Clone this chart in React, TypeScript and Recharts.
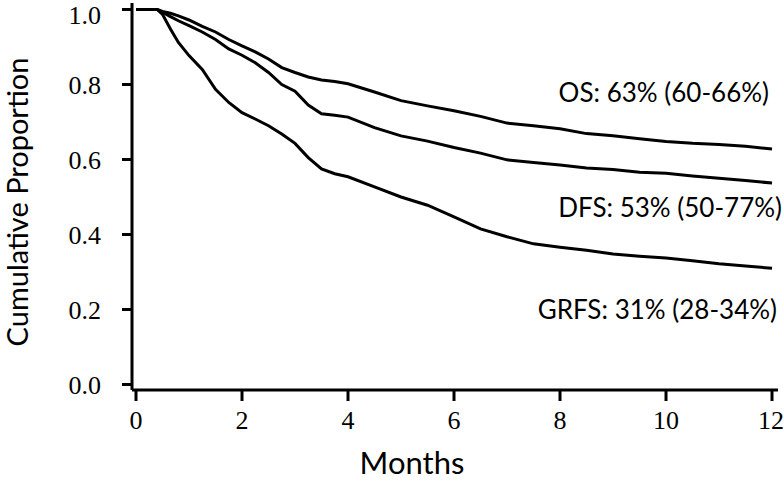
import React from "react";
import { LineChart, Line, XAxis, YAxis, ReferenceDot, Label } from "recharts";

const months = [
  0, 0.4, 0.5, 0.65, 0.8, 1.0, 1.25, 1.5, 1.75, 2.0, 2.25, 2.5, 2.75, 3.0, 3.25, 3.5, 3.75, 4.0,
  4.5, 5.0, 5.5, 6.0, 6.5, 7.0, 7.5, 8.0, 8.5, 9.0, 9.5, 10.0, 10.5, 11.0, 11.5, 12.0,
];

const osValues = [
  1.0, 1.0, 0.995, 0.99, 0.983, 0.972, 0.955, 0.94, 0.92, 0.903, 0.887, 0.868, 0.845, 0.832, 0.82,
  0.812, 0.808, 0.802, 0.78, 0.757, 0.743, 0.73, 0.715, 0.697, 0.69, 0.682, 0.669, 0.663, 0.655,
  0.648, 0.643, 0.64, 0.635, 0.628,
];

const dfsValues = [
  1.0, 1.0, 0.993, 0.981, 0.97, 0.957, 0.94, 0.92, 0.895, 0.878, 0.858, 0.832, 0.8, 0.782, 0.745,
  0.722, 0.718, 0.713, 0.685, 0.663, 0.649, 0.632, 0.617, 0.599, 0.592, 0.585, 0.577, 0.573, 0.566,
  0.563, 0.556, 0.55, 0.544, 0.537,
];

const grfsValues = [
  1.0, 1.0, 0.987, 0.948, 0.912, 0.877, 0.84, 0.787, 0.752, 0.725, 0.708, 0.69, 0.668, 0.643, 0.605,
  0.575, 0.562, 0.554, 0.527, 0.5, 0.478, 0.447, 0.415, 0.394, 0.375, 0.366, 0.358, 0.348, 0.342,
  0.337, 0.33, 0.322, 0.316, 0.31,
];

const xTicks = [0, 2, 4, 6, 8, 10, 12];
const yTicks = [0, 0.2, 0.4, 0.6, 0.8, 1.0];

const annotations = [
  { text: "OS: 63% (60-66%)", x: 12, y: 0.772, dx: -3 },
  { text: "DFS: 53% (50-77%)", x: 12, y: 0.465, dx: 10 },
  { text: "GRFS: 31% (28-34%)", x: 12, y: 0.193, dx: 5 },
];

const data = months.map((t, i) => ({
  t,
  os: osValues[i],
  dfs: dfsValues[i],
  grfs: grfsValues[i],
}));

const serif = "'Liberation Serif', 'Times New Roman', serif";
const sans = "Lato, 'Open Sans', sans-serif";

const App = () => {
  return (
    <div style={{ position: "absolute", left: 0, top: 0, width: 784, height: 481, background: "#fff" }}>
      <LineChart width={784} height={481} data={data} margin={{ top: 3, right: 6, bottom: 0, left: 0 }}>
        <XAxis
          dataKey="t"
          type="number"
          domain={[-0.0755, 12.113]}
          ticks={xTicks}
          allowDataOverflow
          height={91}
          stroke="#000"
          strokeWidth={3}
          tickSize={11}
          tickMargin={10}
          tick={{ fill: "#000", fontSize: 26, fontFamily: serif }}
        >
          <Label
            content={({ viewBox }: any) => (
              <text
                x={viewBox.x + viewBox.width / 2 - 43}
                y={viewBox.y + 76}
                textAnchor="middle"
                dominantBaseline="middle"
                fontSize={31}
                fontFamily={sans}
                fill="#000"
              >
                Months
              </text>
            )}
          />
        </XAxis>
        <YAxis
          type="number"
          domain={[-0.0147, 1.0173]}
          ticks={yTicks}
          allowDataOverflow
          width={132}
          stroke="#000"
          strokeWidth={3}
          tickSize={10}
          tickMargin={21}
          tickFormatter={(v: number) => v.toFixed(1)}
          tick={{ fill: "#000", fontSize: 26, fontFamily: serif }}
        >
          <Label
            content={() => (
              <text
                x={21}
                y={202}
                transform="rotate(-90 21 202)"
                textAnchor="middle"
                dominantBaseline="middle"
                fontSize={29}
                fontFamily={sans}
                fill="#000"
              >
                Cumulative Proportion
              </text>
            )}
          />
        </YAxis>
        <Line dataKey="os" type="linear" stroke="#000" strokeWidth={3} dot={false} isAnimationActive={false} />
        <Line dataKey="dfs" type="linear" stroke="#000" strokeWidth={3} dot={false} isAnimationActive={false} />
        <Line dataKey="grfs" type="linear" stroke="#000" strokeWidth={3} dot={false} isAnimationActive={false} />
        {annotations.map((a) => (
          <ReferenceDot
            key={a.text}
            x={a.x}
            y={a.y}
            r={0}
            fill="none"
            stroke="none"
            ifOverflow="visible"
          >
            <Label
              content={({ viewBox }: any) => (
                <text
                  x={viewBox.x + viewBox.width / 2 + a.dx}
                  y={viewBox.y + viewBox.height / 2}
                  textAnchor="end"
                  dominantBaseline="middle"
                  fontSize={26}
                  fontFamily={sans}
                  fill="#000"
                >
                  {a.text}
                </text>
              )}
            />
          </ReferenceDot>
        ))}
      </LineChart>
    </div>
  );
};

export default App;
